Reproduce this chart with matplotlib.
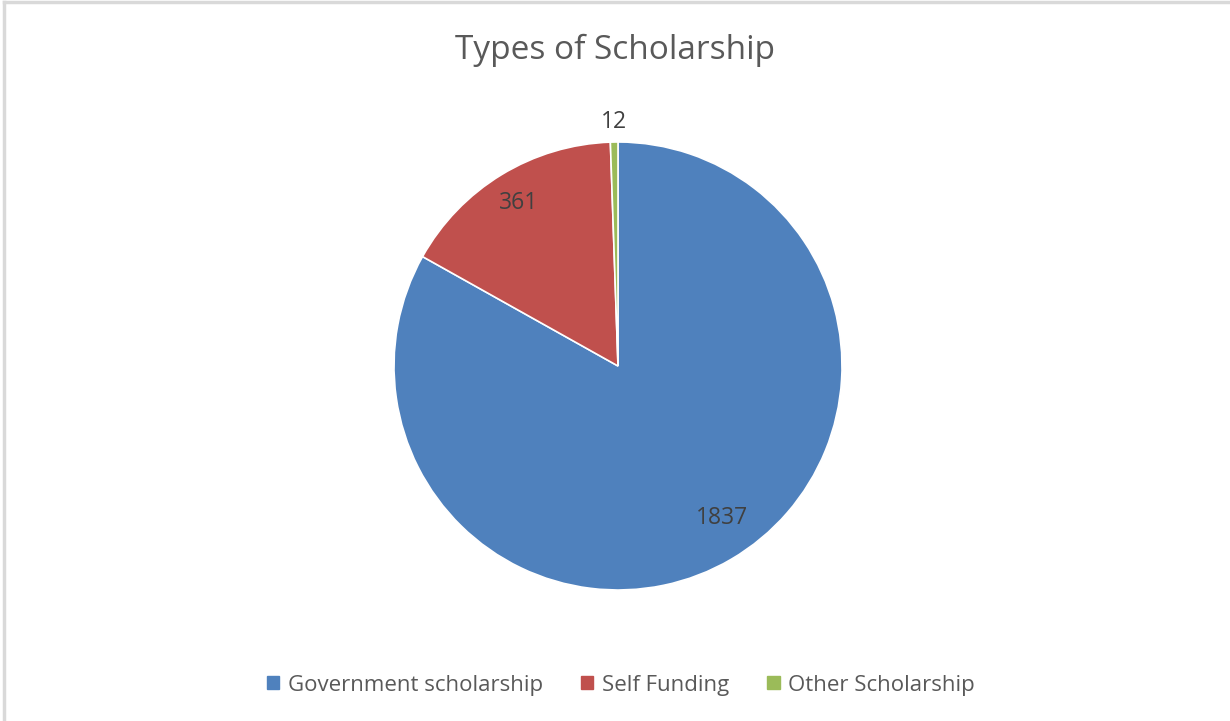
import matplotlib
matplotlib.use("Agg")
import matplotlib.pyplot as plt
import numpy as np
from matplotlib.lines import Line2D
from matplotlib.patches import Patch

categories = ["Government scholarship", "Self Funding", "Other Scholarship"]
values = [1837, 361, 12]
colors = ["#4F81BD", "#C0504D", "#9BBB59"]
title = "Types of Scholarship"

W, H = 1230, 721
fig = plt.figure(figsize=(W / 100, H / 100), dpi=100)
fig.patch.set_facecolor("white")

cx, cy, R = 618, 366, 224
ax = fig.add_axes([(cx - R) / W, (H - cy - R) / H, 2 * R / W, 2 * R / H])
wedges, _ = ax.pie(values, colors=colors, startangle=90, counterclock=False,
                   radius=1.0, wedgeprops=dict(edgecolor="white", linewidth=1.2))
ax.set_xlim(-1, 1)
ax.set_ylim(-1, 1)
ax.set_aspect("equal")
ax.axis("off")

font = "Open Sans"
dists = [0.82, 0.85, 1.09]
shifts = [4, 0, 0]
for w, v, d, s in zip(wedges, values, dists, shifts):
    mid = np.deg2rad((w.theta1 + w.theta2) / 2 + s)
    ax.text(d * np.cos(mid), d * np.sin(mid), str(v), ha="center", va="center",
            fontsize=16.5, color="#404040", family=font, clip_on=False)

fig.text(0.5, (H - 50) / H, title, ha="center", va="center", fontsize=24,
         color="#595959", family=font)

handles = [Patch(facecolor=c, edgecolor=c) for c in colors]
leg = fig.legend(handles, categories, loc="center", bbox_to_anchor=(0.505, (H - 685) / H),
                 ncol=3, frameon=False, handlelength=0.55, handleheight=0.55,
                 handletextpad=0.4, columnspacing=1.7, prop=dict(family=font, size=16))
for t in leg.get_texts():
    t.set_color("#595959")

# border (top and left visible)
fig.add_artist(Line2D([4 / W, 4 / W], [0, 1 - 2 / H], transform=fig.transFigure,
                      color="#D9D9D9", linewidth=2.5))
fig.add_artist(Line2D([4 / W, 1], [1 - 2 / H, 1 - 2 / H], transform=fig.transFigure,
                      color="#D9D9D9", linewidth=2.5))

fig.savefig("out.png", dpi=100)
